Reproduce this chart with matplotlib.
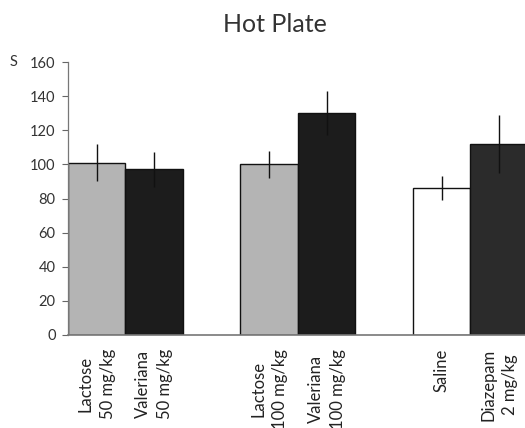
import numpy as np
import matplotlib
matplotlib.use("Agg")
import matplotlib.pyplot as plt

# data (seconds)
labels = ["Lactose\n50 mg/kg", "Valeriana\n50 mg/kg",
          "Lactose\n100 mg/kg", "Valeriana\n100 mg/kg",
          "Saline", "Diazepam\n2 mg/kg"]
means = [101, 97, 100, 130, 86, 112]
errors = [11, 10, 8, 13, 7, 17]
positions = [0.5, 1.5, 3.5, 4.5, 6.5, 7.5]
yticks = [0, 20, 40, 60, 80, 100, 120, 140, 160]

colors = ["#b4b4b4", "#1c1c1c", "#b4b4b4", "#1c1c1c", "#ffffff", "#2b2b2b"]

plt.rcParams['font.family'] = ['Lato', 'DejaVu Sans']

fig = plt.figure(figsize=(5.25, 4.28), dpi=100)
ax = fig.add_axes([68 / 525, 1 - 335 / 428, 1 - 68 / 525, 273 / 428])

ax.bar(positions, means, width=1.0, color=colors, edgecolor="#111111", linewidth=1.0)
ax.errorbar(positions, means, yerr=errors, fmt="none", ecolor="#111111",
            elinewidth=1.0, capsize=0)

ax.set_xlim(0, 7.95)
ax.set_ylim(0, 160)
ax.set_yticks(yticks)
ax.tick_params(axis="y", length=4, width=0.8, color="#666666",
               labelsize=10.5, labelcolor="#333333", pad=5)
ax.set_xticks([])

for s in ["top", "right"]:
    ax.spines[s].set_visible(False)
ax.spines["left"].set_color("#777777")
ax.spines["bottom"].set_color("#777777")
ax.spines["left"].set_linewidth(0.9)
ax.spines["bottom"].set_linewidth(1.2)

for x, lab in zip(positions, labels):
    ax.annotate(lab, xy=(x, 0), xycoords="data", xytext=(0, -10),
                textcoords="offset points", rotation=90, ha="center", va="top",
                multialignment="center", fontsize=12, linespacing=1.45,
                color="#222222")

fig.text(13 / 525, 1 - 62 / 428, "S", fontsize=10.5, color="#333333",
         ha="center", va="center")
fig.text(275 / 525, 1 - 25 / 428, "Hot Plate", fontsize=18, color="#333333",
         ha="center", va="center")

fig.savefig("out.png", dpi=100)
